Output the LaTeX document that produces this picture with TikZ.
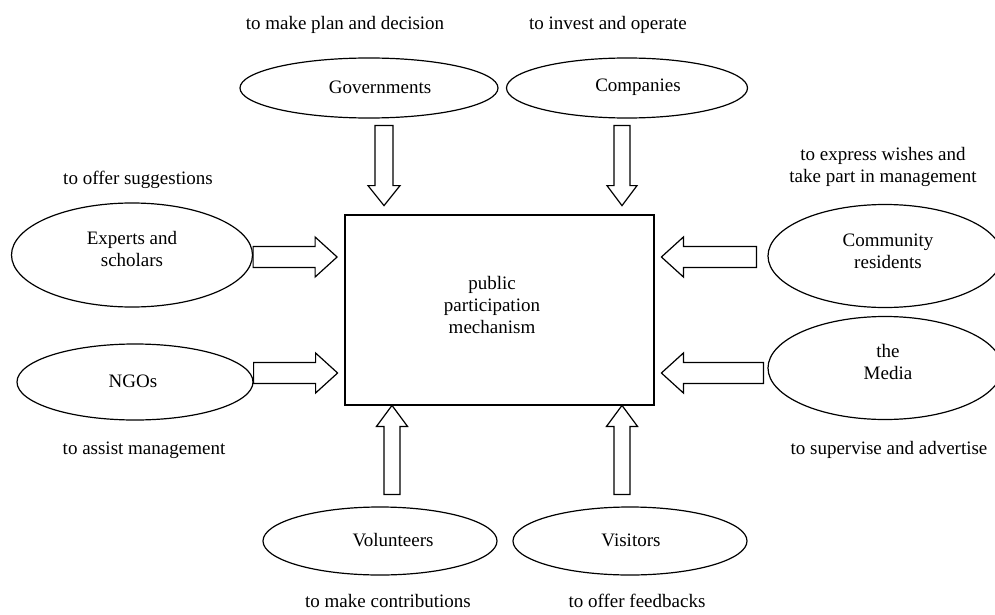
\documentclass[tikz,border=0pt]{standalone}
\usepackage{fontspec}
\setmainfont{Liberation Serif}
\usetikzlibrary{shapes.geometric,calc}
\tikzset{
  ell/.style={draw, ellipse, line width=1.2pt, inner sep=0pt, align=center},
  txt/.style={inner sep=0pt, align=center},
}
% block arrow: #1 start, #2 angle, #3 length, #4 shaft half width, #5 head half width, #6 head length
\newcommand\blockarrow[6]{%
  \draw[line width=1.2pt, line join=miter, shift={(#1)}, rotate=#2]
    (0,-#4) -- ({#3-#6},-#4) -- ({#3-#6},-#5) -- (#3,0) -- ({#3-#6},#5) -- ({#3-#6},#4) -- (0,#4) -- cycle;}
\begin{document}
\begin{tikzpicture}[x=1pt, y=-1pt, font=\fontsize{19}{22}\selectfont]
\useasboundingbox (0,0) rectangle (995,615);
\clip (0,0) rectangle (995,615);
% central box
\node[draw, line width=1.2pt, minimum width=309pt, minimum height=190pt, inner sep=0pt] (ppm) at (499.5,310) {};
\node[txt] (ppmt) at (492,305) {public\\participation\\mechanism};
% ellipses
\node[ell, minimum width=258pt, minimum height=60pt] (gov) at (369,88) {};
\node[txt] (govt) at (380,87) {Governments};
\node[ell, minimum width=241pt, minimum height=60pt] (comp) at (627,88) {};
\node[txt] (compt) at (638,87) {Companies};
\node[ell, minimum width=241pt, minimum height=104pt] (exp) at (132,255) {};
\node[txt] (expt) at (132,249) {Experts and\\scholars};
\node[ell, minimum width=236pt, minimum height=76pt] (ngo) at (135,382) {};
\node[txt] (ngot) at (133,381) {NGOs};
\node[ell, minimum width=234pt, minimum height=103pt] (com) at (885,256) {};
\node[txt] (comt) at (888,251) {Community\\residents};
\node[ell, minimum width=234pt, minimum height=103pt] (med) at (885,368) {};
\node[txt] (medt) at (888,362) {the\\Media};
\node[ell, minimum width=234pt, minimum height=68pt] (vol) at (380,541) {};
\node[txt] (volt) at (393,540) {Volunteers};
\node[ell, minimum width=234pt, minimum height=68pt] (vis) at (630,541) {};
\node[txt] (vist) at (631,540) {Visitors};
% labels
\node[txt] (l1) at (345,25) {to make plan and decision};
\node[txt] (l2) at (608,25) {to invest and operate};
\node[txt] (l3) at (138,180) {to offer suggestions};
\node[txt] (l4) at (883,167) {to express wishes and\\take part in management};
\node[txt] (l5) at (144,450) {to assist management};
\node[txt] (l6) at (889,450) {to supervise and advertise};
\node[txt] (l7) at (388,601) {to make contributions};
\node[txt] (l8) at (637,601) {to offer feedbacks};
% arrow start coordinates
\coordinate (a1) at ($(gov.south)+(15,7)$);
\coordinate (a2) at ($(comp.south)+(-5,7)$);
\coordinate (a3) at (exp.east |- 0,257);
\coordinate (a4) at (ngo.east |- 0,373);
\coordinate (a5) at ($(com.west |- 0,257)+(-11,0)$);
\coordinate (a6) at ($(med.west |- 0,373)+(-4,0)$);
\coordinate (a7) at ($(vol.north)+(12,-12)$);
\coordinate (a8) at ($(vis.north)+(-8,-12)$);
\blockarrow{a1}{-90}{80}{9}{16}{20}
\blockarrow{a2}{-90}{80}{8}{15}{20}
\blockarrow{a3}{0}{84}{10.5}{20}{22}
\blockarrow{a4}{0}{84}{10.5}{20}{22}
\blockarrow{a5}{180}{95}{10.5}{20}{22}
\blockarrow{a6}{180}{102}{10.5}{20}{22}
\blockarrow{a7}{90}{89}{8}{15.5}{21}
\blockarrow{a8}{90}{89}{8}{15.5}{21}
\end{tikzpicture}
\end{document}
